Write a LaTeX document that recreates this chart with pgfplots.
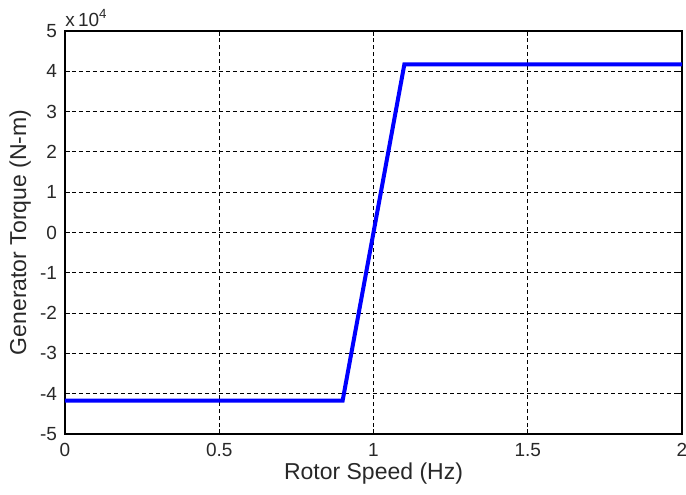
\documentclass[border=0pt]{standalone}
\usepackage{pgfplots}
\pgfplotsset{compat=1.18}
\usepackage{fontspec}
\setmainfont{Liberation Sans}
\definecolor{txt}{RGB}{40,40,40}
\begin{document}
\begin{tikzpicture}
\begin{axis}[
  scale only axis,
  width=308.5pt, height=201.5pt,
  xmin=0, xmax=2, ymin=-50000, ymax=50000,
  xtick={0,0.5,1,1.5,2},
  xticklabels={0,0.5,1,1.5,2},
  ytick={-50000,-40000,-30000,-20000,-10000,0,10000,20000,30000,40000,50000},
  yticklabels={-5,-4,-3,-2,-1,0,1,2,3,4,5},
  scaled y ticks=false,
  tick align=inside,
  major tick length=2.5pt,
  tick style={black, line width=0.5pt},
  axis line style={black, line width=0.6pt},
  grid=major,
  major grid style={black, dash pattern=on 2pt off 1.5pt, line width=0.5pt},
  ticklabel style={font=\fontsize{9.5}{10}\selectfont, text=txt},
  label style={font=\fontsize{11.5}{13}\selectfont, text=txt},
  xticklabel style={yshift=-1pt},
  yticklabel style={xshift=-0.5pt},
  xlabel={Rotor Speed (Hz)},
  ylabel={Generator Torque (N-m)},
  xlabel style={at={(axis description cs:0.5,0)}, anchor=north, yshift=-11pt},
  ylabel style={at={(axis description cs:0,0.5)}, anchor=south, yshift=13.5pt},
]
\addplot[blue, line width=2pt] coordinates {(0,-41700) (0.9,-41700) (1.1,41700) (2,41700)};
\end{axis}
\node[anchor=south west, inner sep=0pt, font=\fontsize{9.5}{10}\selectfont, text=txt] at ([yshift=2pt]current axis.north west) {x\,10\textsuperscript{4}};
\pgfresetboundingbox
\useasboundingbox ([shift={(-32.5pt,-30pt)}]current axis.south west) rectangle ([shift={(2pt,15.5pt)}]current axis.north east);
\end{tikzpicture}
\end{document}
